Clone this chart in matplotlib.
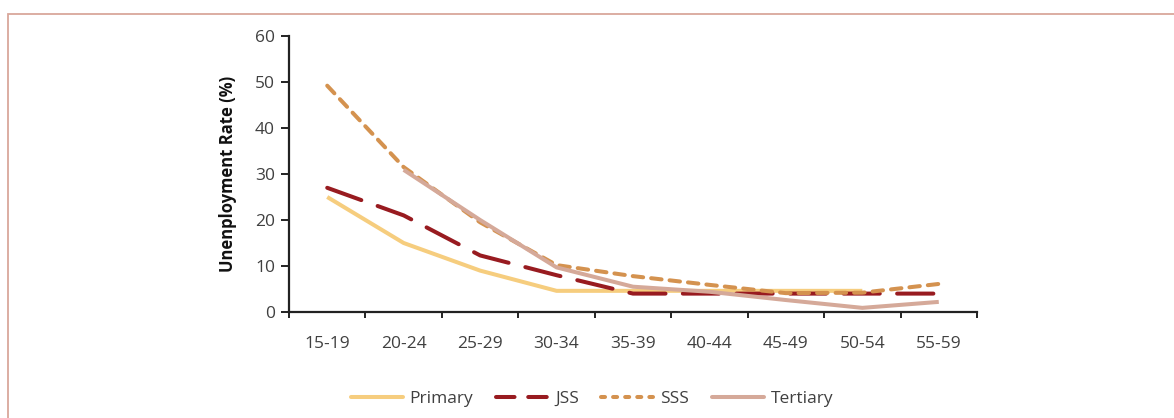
import numpy as np
import matplotlib
matplotlib.use("Agg")
import matplotlib.pyplot as plt
from matplotlib.patches import Rectangle
from matplotlib.lines import Line2D

# Unemployment rate (%) by age group and education level
age_groups = ["15-19", "20-24", "25-29", "30-34", "35-39",
              "40-44", "45-49", "50-54", "55-59"]
primary = [25, 15, 9, 4.6, 4.6, 4.6, 4.6, 4.6, np.nan]
jss = [27, 21, 12.3, 8, 4, 4, 4, 4, 4]
sss = [49.2, 31.5, 19.5, 10.2, 7.8, 5.9, 4.1, 4.2, 6.1]
tertiary = [np.nan, 30.9, 20, 9.7, 5.5, 4.4, 2.6, 0.9, 2.2]
series_names = ["Primary", "JSS", "SSS", "Tertiary"]

plt.rcParams["font.family"] = ["Open Sans", "DejaVu Sans"]

fig = plt.figure(figsize=(11.74, 4.18), dpi=100)
ax = fig.add_axes([289 / 1174, 1 - 312 / 418, (977 - 289) / 1174, (312 - 36) / 418])

# outer frame of the figure panel
fig.patches.append(Rectangle((7.5 / 1174, -0.2), 1.2, 0.2 + 1 - 14.0 / 418,
                             transform=fig.transFigure, fill=False,
                             edgecolor="#d9a79b", linewidth=1.3))

c_pri, c_jss, c_sss, c_ter = "#f6cd7e", "#981b20", "#d4924f", "#d5a999"
x = np.arange(len(age_groups))
lw = 2.9
ax.plot(x, primary, color=c_pri, lw=lw, solid_capstyle="butt")
ax.plot(x, jss, color=c_jss, lw=lw, dashes=(9, 4.3), dash_capstyle="round")
ax.plot(x, sss, color=c_sss, lw=lw, dashes=(2.6, 2.0), dash_capstyle="round")
ax.plot(x, tertiary, color=c_ter, lw=lw, solid_capstyle="butt")

ax.set_xlim(-0.5, len(age_groups) - 0.5)
ax.set_ylim(0, 60)
ax.set_yticks(range(0, 61, 10))
ax.set_xticks(np.arange(-0.5, len(age_groups), 1.0))
ax.set_xticklabels([])
ax.set_xticks(x, minor=True)
ax.set_xticklabels(age_groups, minor=True)

for side in ("top", "right"):
    ax.spines[side].set_visible(False)
for side in ("left", "bottom"):
    ax.spines[side].set_color("#222222")
    ax.spines[side].set_linewidth(1.6)

ax.tick_params(axis="y", which="major", direction="out", length=6, width=1.4,
               color="#222222", labelsize=12.5, labelcolor="#404040", pad=4)
ax.tick_params(axis="x", which="major", direction="out", length=4, width=1.4,
               color="#222222")
ax.tick_params(axis="x", which="minor", length=0, labelsize=12.5,
               labelcolor="#404040", pad=17)

ax.set_ylabel("Unenployment Rate (%)", fontsize=12, fontweight="bold",
              color="#111111", labelpad=13)

# legend keys use a tighter dash rhythm than the plotted lines
handles = [
    Line2D([], [], color=c_pri, lw=lw, solid_capstyle="round"),
    Line2D([], [], color=c_jss, lw=lw, dashes=(4.6, 3.4), dash_capstyle="round"),
    Line2D([], [], color=c_sss, lw=lw, dashes=(1.0, 2.0), dash_capstyle="round"),
    Line2D([], [], color=c_ter, lw=lw, solid_capstyle="round"),
]
fig.legend(handles, series_names, loc="center",
           bbox_to_anchor=(592 / 1174, 1 - 399 / 418), ncol=4,
           frameon=False, fontsize=12.5, handlelength=3.0, handletextpad=0.4,
           columnspacing=1.3, labelcolor="#404040")

fig.savefig("out.png", dpi=100)
